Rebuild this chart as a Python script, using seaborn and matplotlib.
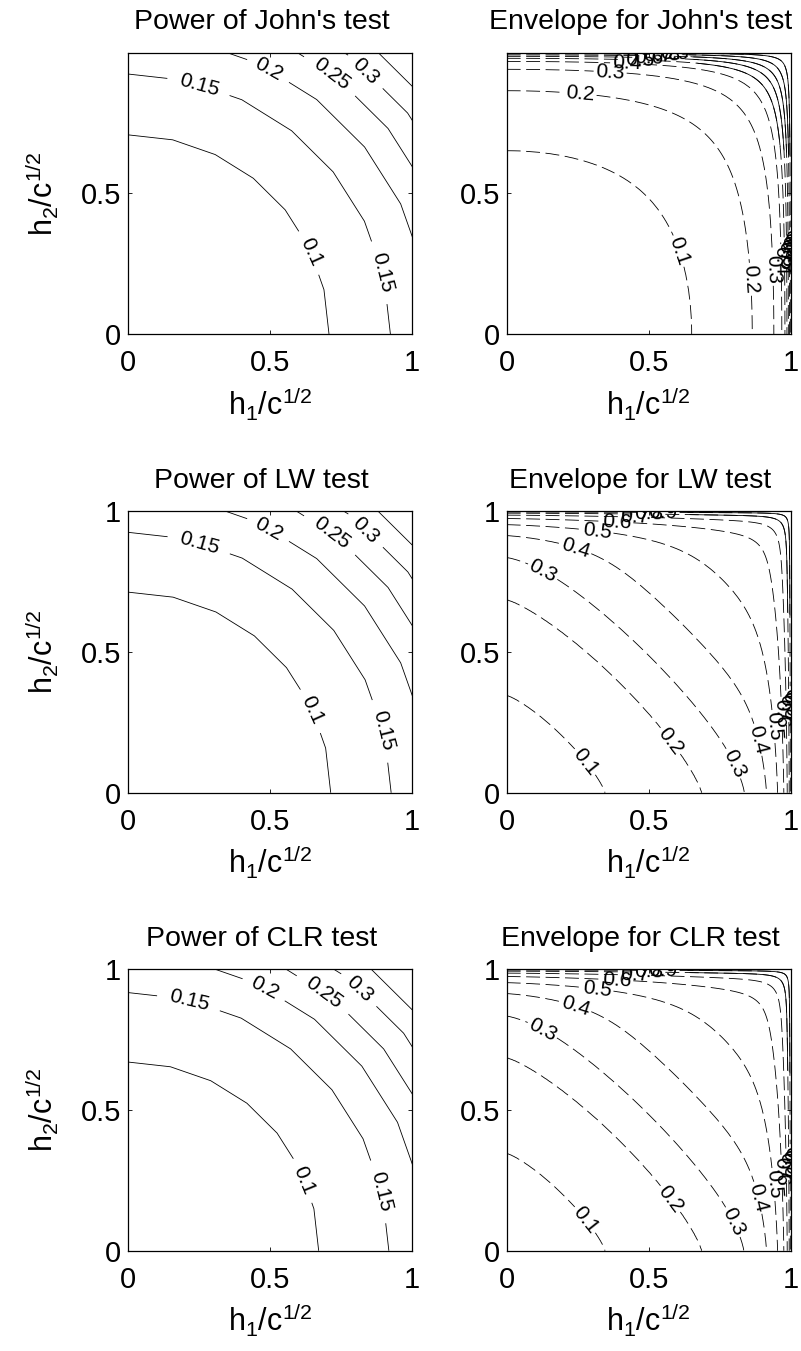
import numpy as np
import matplotlib
matplotlib.use("Agg")
import matplotlib.pyplot as plt
from matplotlib.patches import Polygon
import seaborn as sns

sns.set_style("ticks", {"xtick.direction": "in", "ytick.direction": "in"})
plt.rcParams["font.family"] = ["Liberation Sans", "DejaVu Sans"]
plt.rcParams["mathtext.fontset"] = "custom"
plt.rcParams["mathtext.rm"] = "Liberation Sans"
plt.rcParams["mathtext.it"] = "Liberation Sans"
plt.rcParams["mathtext.bf"] = "Liberation Sans:bold"
plt.rcParams["lines.scale_dashes"] = False
for key in ["text.color", "axes.labelcolor", "xtick.color", "ytick.color"]:
    plt.rcParams[key] = "black"

# power of each test: level -> radius sqrt(h1^2 + h2^2) where the power reaches it
POWER_LEVELS = [0.05, 0.10, 0.15, 0.20, 0.25, 0.30, 0.35, 0.43]
JOHN_RADII = [0.0, 0.712, 0.925, 1.065, 1.171, 1.259, 1.337, 1.50]
LW_RADII = [0.0, 0.715, 0.928, 1.065, 1.171, 1.260, 1.338, 1.50]
CLR_RADII = [0.0, 0.675, 0.918, 1.054, 1.151, 1.241, 1.321, 1.50]
POWER_DRAWN = [0.10, 0.15, 0.20, 0.25, 0.30, 0.35]

# power envelopes: level -> point where the contour meets the h1 axis
ENV_LEVELS = [0.05, 0.1, 0.2, 0.3, 0.4, 0.5, 0.6, 0.7, 0.8, 0.9, 0.99]
JOHN_ENV_CUT = [0.0, 0.651, 0.864, 0.940, 0.968, 0.979, 0.986, 0.991, 0.995, 0.998, 0.99995]
LW_ENV_CUT = [0.0, 0.346, 0.686, 0.836, 0.914, 0.953, 0.975, 0.987, 0.994, 0.998, 0.99995]
CLR_ENV_CUT = [0.0, 0.346, 0.686, 0.834, 0.914, 0.953, 0.975, 0.987, 0.994, 0.998, 0.99995]
ENV_DRAWN = [0.1, 0.2, 0.3, 0.4, 0.5, 0.6, 0.7, 0.8, 0.9]

TITLES = [("Power of John's test", "Envelope for John's test"),
          ("Power of LW test", "Envelope for LW test"),
          ("Power of CLR test", "Envelope for CLR test")]

# where the contour labels sit (layout only)
POWER_LABELS = {0.10: [(0.635, 0.288)], 0.15: [(0.25, 0.886), (0.887, 0.217)],
                0.20: [(0.494, 0.937)], 0.25: [(0.717, 0.925)], 0.30: [(0.834, 0.93)]}
CLR_POWER_LABELS = {0.10: [(0.588, 0.24)], 0.15: [(0.207, 0.867), (0.87, 0.204)],
                    0.20: [(0.465, 0.909)], 0.25: [(0.682, 0.903)], 0.30: [(0.811, 0.926)]}
JOHN_ENV_LABELS = {0.1: [(0.586, 0.288)], 0.2: [(0.258, 0.847), (0.838, 0.193)],
                   0.3: [(0.363, 0.917), (0.914, 0.229)], 0.4: [(0.422, 0.961), (0.95, 0.26)],
                   0.5: [(0.47, 0.975), (0.97, 0.28)], 0.6: [(0.5, 0.98), (0.98, 0.29)],
                   0.7: [(0.53, 0.985), (0.985, 0.3)], 0.8: [(0.56, 0.99), (0.99, 0.31)],
                   0.9: [(0.59, 0.995), (0.995, 0.32)]}
LW_ENV_LABELS = {0.1: [(0.252, 0.092)], 0.2: [(0.563, 0.175)],
                 0.3: [(0.129, 0.791), (0.774, 0.092)], 0.4: [(0.24, 0.862), (0.879, 0.187)],
                 0.5: [(0.317, 0.922), (0.932, 0.235)], 0.6: [(0.387, 0.957), (0.955, 0.282)],
                 0.7: [(0.45, 0.98), (0.975, 0.3)], 0.8: [(0.5, 0.988), (0.985, 0.31)],
                 0.9: [(0.55, 0.995), (0.993, 0.32)]}


def power_field(radii):
    # polar grid, like the original computation
    r = np.linspace(0, 1.45, 80)
    th = np.linspace(0, np.pi / 2, 8)
    R, TH = np.meshgrid(r, th)
    Z = np.interp(R, radii, POWER_LEVELS)
    return R * np.cos(TH), R * np.sin(TH), Z


def env_field(cuts, shape):
    b, p, a, m = shape
    h = np.unique(np.concatenate([np.linspace(0, 0.9, 181),
                                  1 - np.geomspace(0.1, 0.0005, 160)]))
    phi = lambda v: b * np.asarray(v) ** p - a * np.log(1 - np.asarray(v) ** m)
    H1, H2 = np.meshgrid(h, h)
    Z = np.interp(phi(H1) + phi(H2), phi(cuts), ENV_LEVELS)
    return H1, H2, Z


def draw_levels(ax, X, Y, Z, drawn, positions, ls, solid_from=None):
    # one contour set per level so every label lands on its own line
    for lev in drawn:
        cs = ax.contour(X, Y, Z, levels=[lev], colors="black", linewidths=0.6,
                        linestyles=[ls])
        if lev in positions:
            cs.clabel(manual=positions[lev], inline=True, inline_spacing=2,
                      fontsize=15, fmt=lambda v: f"{v:g}")
        if solid_from is not None and lev >= solid_from:
            # tightly bent corners print as solid lines in the original
            over = ax.contour(X, Y, Z, levels=[lev], colors="black", linewidths=0.6)
            over.set_clip_path(Polygon([(0.58, 1.05), (1.05, 1.05), (1.05, 0.58)],
                                       transform=ax.transData))


def style(ax, title, top_row):
    ax.set_xlim(0, 1)
    ax.set_ylim(0, 0.999 if top_row else 1)
    ax.set_xticks([0, 0.5, 1])
    ax.set_xticklabels(["0", "0.5", "1"])
    ax.set_yticks([0, 0.5] if top_row else [0, 0.5, 1])
    ax.set_yticklabels(["0", "0.5"] if top_row else ["0", "0.5", "1"])
    ax.tick_params(axis="both", direction="in", top=True, right=True,
                   length=3, width=0.6, labelsize=21, color="black")
    ax.tick_params(axis="x", pad=11)
    ax.tick_params(axis="y", pad=5)
    for s in ax.spines.values():
        s.set_linewidth(0.9)
        s.set_color("black")
    ax.set_title(title, fontsize=20.5, pad=17, x=0.47)
    ax.set_xlabel(r"h$_1$/c$^{1/2}$", fontsize=22, labelpad=6)


fig = plt.figure(figsize=(8.01, 13.51), dpi=100)
LEFT_X, RIGHT_X, WIDTH, HEIGHT = 0.1598, 0.6326, 0.3548, 0.2082
ROW_Y = [0.7528, 0.4132, 0.0742]

power_sets = [(JOHN_RADII, POWER_LABELS), (LW_RADII, POWER_LABELS), (CLR_RADII, CLR_POWER_LABELS)]
env_sets = [(JOHN_ENV_CUT, (0.0, 2.0, 1.0, 2.0), JOHN_ENV_LABELS, 0.5),
            (LW_ENV_CUT, (1.0, 1.25, 1.0, 20.0), LW_ENV_LABELS, 0.8),
            (CLR_ENV_CUT, (1.0, 1.25, 1.0, 20.0), LW_ENV_LABELS, 0.8)]

for i in range(3):
    ax = fig.add_axes([LEFT_X, ROW_Y[i], WIDTH, HEIGHT])
    radii, labs = power_sets[i]
    X, Y, Z = power_field(radii)
    draw_levels(ax, X, Y, Z, POWER_DRAWN, labs, "solid")
    style(ax, TITLES[i][0], i == 0)
    ax.set_ylabel(r"h$_2$/c$^{1/2}$", fontsize=22, labelpad=14)

    ax = fig.add_axes([RIGHT_X, ROW_Y[i], WIDTH, HEIGHT])
    cuts, shape, labs, solid = env_sets[i]
    X, Y, Z = env_field(cuts, shape)
    draw_levels(ax, X, Y, Z, ENV_DRAWN, labs, (0, (10, 4)), solid)
    style(ax, TITLES[i][1], i == 0)

fig.savefig("out.png", dpi=100)
